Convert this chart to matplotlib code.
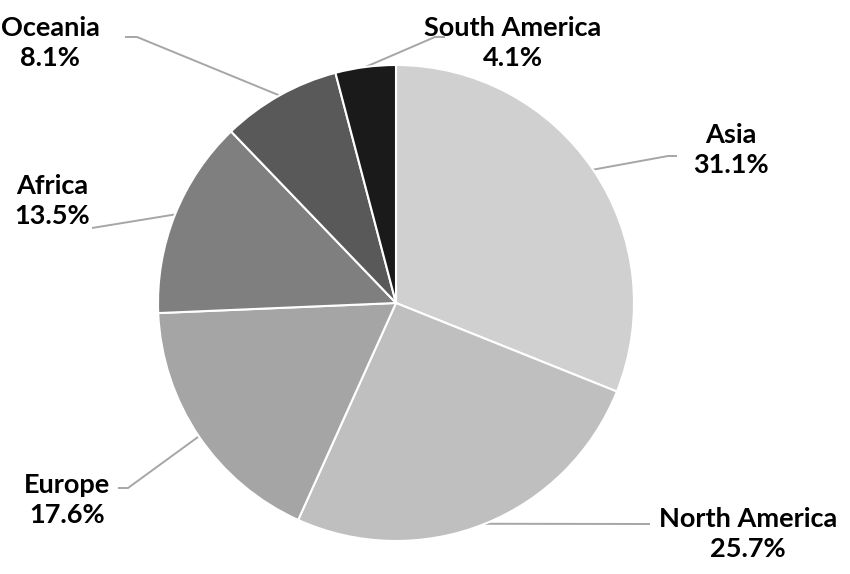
import numpy as np
import matplotlib
matplotlib.use('Agg')
import matplotlib.pyplot as plt

plt.rcParams['font.family'] = ['Lato', 'DejaVu Sans']

regions = ['Asia', 'North America', 'Europe', 'Africa', 'Oceania', 'South America']
shares = [31.1, 25.7, 17.6, 13.5, 8.1, 4.1]
colors = ['#d0d0d0', '#bfbfbf', '#a5a5a5', '#7f7f7f', '#595959', '#1a1a1a']

# pixel layout of the reference: pie centre and radius
CX, CY, R = 396, 303, 238


def px(x, y):
    """pixel (from top-left) -> data units of the pie axes"""
    return (x - CX) / R, (CY - y) / R


# label centre (px) and elbow points (px) of each leader line
label_pos = {
    'Asia': (731, 150),
    'North America': (748, 534),
    'Europe': (67, 500),
    'Africa': (52, 201),
    'Oceania': (50, 43),
    'South America': (513, 43),
}
elbows = {
    'Asia': [(677, 156), (668, 156)],
    'North America': [(650, 524)],
    'Europe': [(118, 488), (128, 488)],
    'Africa': [(92, 228)],
    'Oceania': [(125, 37), (137, 37)],
    'South America': [(445, 37), (435, 37)],
}

fig = plt.figure(figsize=(8.5, 5.74), dpi=100)
ax = fig.add_axes([0, 0, 1, 1])
wedges, _ = ax.pie(shares, colors=colors, startangle=90, counterclock=False,
                   radius=1, wedgeprops=dict(edgecolor='white', linewidth=1.5))

for w, name, val in zip(wedges, regions, shares):
    mid = np.deg2rad((w.theta1 + w.theta2) / 2)
    end = (np.cos(mid), np.sin(mid))
    pts = [px(*p) for p in elbows[name]] + [end]
    ax.plot([p[0] for p in pts], [p[1] for p in pts], color='#a6a6a6',
            lw=1.4, solid_capstyle='butt', zorder=0)
    tx, ty = px(*label_pos[name])
    ax.text(tx, ty, f'{name}\n{val}%', ha='center', va='center',
            fontsize=19.5, fontweight='bold', color='black', linespacing=1.3)

x0, y0 = px(0, 574)
x1, y1 = px(850, 0)
ax.set_xlim(x0, x1)
ax.set_ylim(y0, y1)
ax.set_aspect('equal')
ax.axis('off')

fig.savefig('out.png', dpi=100, facecolor='white')
